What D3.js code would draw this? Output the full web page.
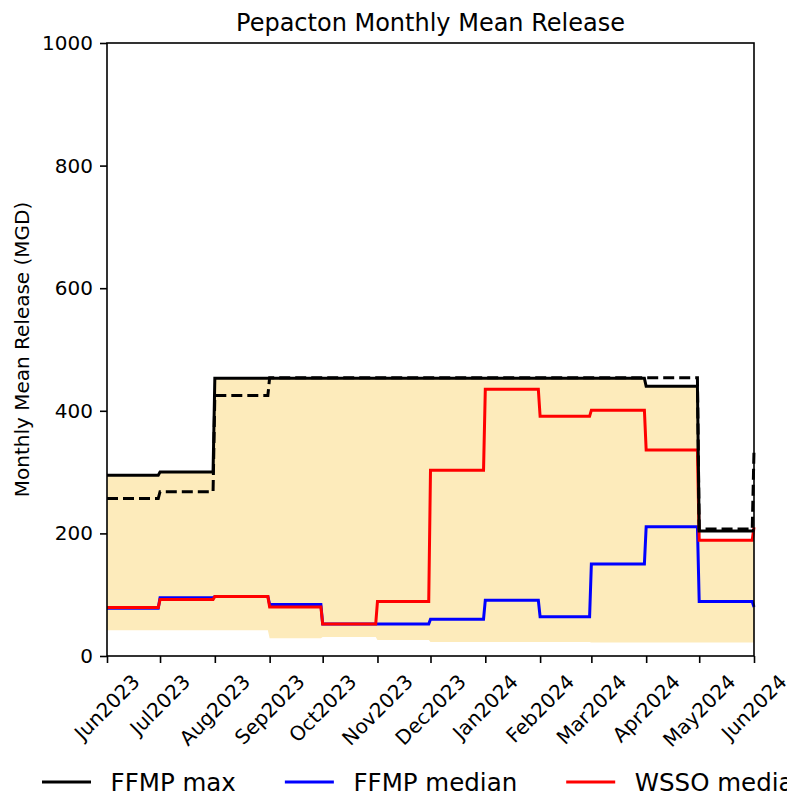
<!DOCTYPE html>
<html>
<head>
<meta charset="utf-8">
<script src="https://cdn.jsdelivr.net/npm/d3@7"></script>
<style>
  body { margin: 0; background: #fff; }
  svg { display: block; font-family: "DejaVu Sans", sans-serif; }
</style>
</head>
<body>
<script>
// monthly values, Jun 2023 .. Jun 2024 (last entry is the Jun 2024 endpoint)
var months = ["2023-06-01", "2023-07-01", "2023-08-01", "2023-09-01", "2023-10-01", "2023-11-01",
              "2023-12-01", "2024-01-01", "2024-02-01", "2024-03-01", "2024-04-01", "2024-05-01", "2024-06-01"];
var ffmpMax    = [295, 300, 453, 453, 453, 453, 453, 453, 453, 453, 440, 204, 206];
var wssoMax    = [257, 268, 425, 454, 454, 454, 454, 454, 454, 454, 454, 207, 335];
var ffmpMedian = [78, 95, 97, 84, 52, 52, 60, 91, 64, 150, 211, 89, 80];
var wssoMedian = [79, 92, 97, 80, 52, 89, 303, 435, 391, 401, 336, 189, 210];
var rangeLow   = [42, 42, 42, 29, 31, 26, 23, 23, 23, 22, 22, 22, 22];
var rangeHigh  = [295, 300, 453, 453, 453, 453, 453, 453, 453, 453, 440, 189, 205];
var yTicks = [0, 200, 400, 600, 800, 1000];
var legendNames = ["FFMP max", "FFMP median", "WSSO median"];
var legendColors = ["#000000", "#0000ff", "#ff0000"];

var W = 787, H = 798;
var margin = {top: 43, left: 107},
    width = 647,
    height = 613;

var parse = d3.utcParse("%Y-%m-%d");
var dates = months.map(parse);

var x = d3.scaleUtc().domain([dates[0], dates[dates.length - 1]]).range([0, width]);
var y = d3.scaleLinear().domain([0, 1000]).range([height, 0]);

// each month is held flat until its last day, then steps to the next month
function steps(vals) {
  var pts = [];
  for (var i = 0; i < vals.length - 1; i++) {
    pts.push({d: dates[i], v: vals[i]});
    pts.push({d: d3.utcDay.offset(dates[i + 1], -1), v: vals[i]});
  }
  pts.push({d: dates[vals.length - 1], v: vals[vals.length - 1]});
  return pts;
}

var svg = d3.select("body").append("svg")
    .attr("width", W)
    .attr("height", H);

var g = svg.append("g")
    .attr("transform", "translate(" + margin.left + "," + margin.top + ")");

// shaded range
var lowPts = steps(rangeLow), highPts = steps(rangeHigh);
var band = lowPts.map(function(p, i) { return {d: p.d, lo: p.v, hi: highPts[i].v}; });
g.append("path")
    .datum(band)
    .attr("fill", "#fdebbb")
    .attr("d", d3.area()
        .x(function(d) { return x(d.d); })
        .y0(function(d) { return y(d.lo); })
        .y1(function(d) { return y(d.hi); }));

var line = d3.line()
    .x(function(d) { return x(d.d); })
    .y(function(d) { return y(d.v); });

g.append("path").datum(steps(ffmpMedian))
    .attr("fill", "none").attr("stroke", "#0000ff").attr("stroke-width", 3)
    .attr("d", line);
g.append("path").datum(steps(wssoMedian))
    .attr("fill", "none").attr("stroke", "#ff0000").attr("stroke-width", 3)
    .attr("d", line);
g.append("path").datum(steps(ffmpMax))
    .attr("fill", "none").attr("stroke", "#000").attr("stroke-width", 3)
    .attr("d", line);
g.append("path").datum(steps(wssoMax))
    .attr("fill", "none").attr("stroke", "#000").attr("stroke-width", 3)
    .attr("stroke-dasharray", "11,5")
    .attr("d", line);

// Y axis
var yAxis = g.append("g")
    .call(d3.axisLeft(y).tickValues(yTicks).tickFormat(d3.format("d"))
        .tickSize(7).tickPadding(7).tickSizeOuter(0));
yAxis.select(".domain").remove();
yAxis.attr("font-size", 20).attr("font-family", "DejaVu Sans");
yAxis.selectAll("line").attr("stroke-width", 1.6);

// X axis
var xAxis = g.append("g")
    .attr("transform", "translate(0," + height + ")")
    .call(d3.axisBottom(x).tickValues(dates).tickSize(7).tickFormat("").tickSizeOuter(0));
xAxis.select(".domain").remove();
xAxis.selectAll("line").attr("stroke-width", 1.6);

var fmt = d3.utcFormat("%b%Y");
var lab = g.append("g").attr("font-size", 20).attr("fill", "#000");
lab.selectAll("text")
  .data(dates)
  .enter().append("text")
    .attr("text-anchor", "middle")
    .attr("dy", "0.35em")
    .text(function(d) { return fmt(d); })
    .attr("transform", function(d) {
      var L = this.getComputedTextLength();
      var half = (L + 23) * Math.SQRT1_2 / 2;
      return "translate(" + x(d) + "," + (height + 14 + half) + ") rotate(-45)";
    });

// frame
g.append("rect")
    .attr("width", width).attr("height", height)
    .attr("fill", "none").attr("stroke", "#000").attr("stroke-width", 1.6);

// title and y label
svg.append("text")
    .attr("x", margin.left + width / 2)
    .attr("y", 31)
    .attr("text-anchor", "middle")
    .attr("font-size", 24)
    .text("Pepacton Monthly Mean Release");

svg.append("text")
    .attr("transform", "translate(29," + (margin.top + height / 2) + ") rotate(-90)")
    .attr("text-anchor", "middle")
    .attr("font-size", 20)
    .text("Monthly Mean Release (MGD)");

// legend (runs off the right edge, as in the original)
var fs = 24.5, lx = 42, ly = 782;
var leg = svg.append("g").attr("font-size", fs);
legendNames.forEach(function(name, i) {
  leg.append("line")
      .attr("x1", lx).attr("x2", lx + 2 * fs)
      .attr("y1", ly).attr("y2", ly)
      .attr("stroke", legendColors[i]).attr("stroke-width", 3);
  var t = leg.append("text")
      .attr("x", lx + 2.8 * fs)
      .attr("y", ly)
      .attr("dy", "0.35em")
      .text(name);
  lx = lx + 2.8 * fs + t.node().getComputedTextLength() + 2 * fs;
});
</script>
</body>
</html>
